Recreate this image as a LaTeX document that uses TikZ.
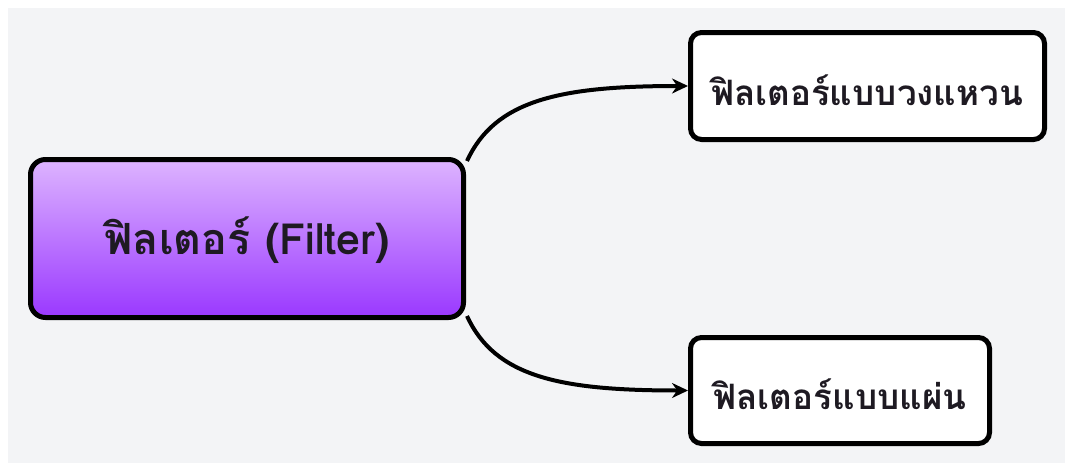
\documentclass[tikz,border=0pt]{standalone}
\usepackage{fontspec}
\newfontfamily\thaifont[Script=Thai]{Loma}
\usetikzlibrary{arrows.meta}
\definecolor{bgray}{HTML}{F3F4F6}
\definecolor{ptop}{HTML}{DDB4FF}
\definecolor{pbot}{HTML}{9A38FF}
\definecolor{txt}{HTML}{1E1A22}
\tikzset{
  mainbox/.style={draw=black, line width=5pt, rounded corners=15pt, top color=ptop, bottom color=pbot, minimum width=433pt, minimum height=158pt, inner sep=0pt},
  leafbox/.style={draw=black, line width=5pt, rounded corners=11pt, fill=white, inner sep=0pt},
  conn/.style={line width=4pt, -{Stealth[length=16pt,width=15pt]}},
  lbl/.style={font=\thaifont\bfseries\fontsize{35}{40}\selectfont, text=txt},
}
\begin{document}
\begin{tikzpicture}[x=1pt,y=-1pt]
\useasboundingbox (0,0) rectangle (1073,471);
\fill[white] (0,0) rectangle (1073,471);
\fill[bgray] (8,8) rectangle (1065,463);
\node[mainbox] (main) at (247,238.5) {};
\node[lbl, font=\thaifont\bfseries\fontsize{43}{48}\selectfont] (maint) at (247,240) {ฟิลเตอร์ (Filter)};
\node[leafbox, minimum width=354pt, minimum height=107pt] (ring) at (867.5,86) {};
\node[lbl] (ringt) at (867,90) {ฟิลเตอร์แบบวงแหวน};
\node[leafbox, minimum width=299pt, minimum height=106pt] (sheet) at (840,390.5) {};
\node[lbl] (sheett) at (840,394) {ฟิลเตอร์แบบแผ่น};
\coordinate (s1) at (467,161);
\coordinate (s2) at (467,316);
\draw[conn] (s1) .. controls (495,100) and (560,86) .. (ring.west);
\draw[conn] (s2) .. controls (495,377) and (560,390.5) .. (sheet.west);
\end{tikzpicture}
\end{document}
